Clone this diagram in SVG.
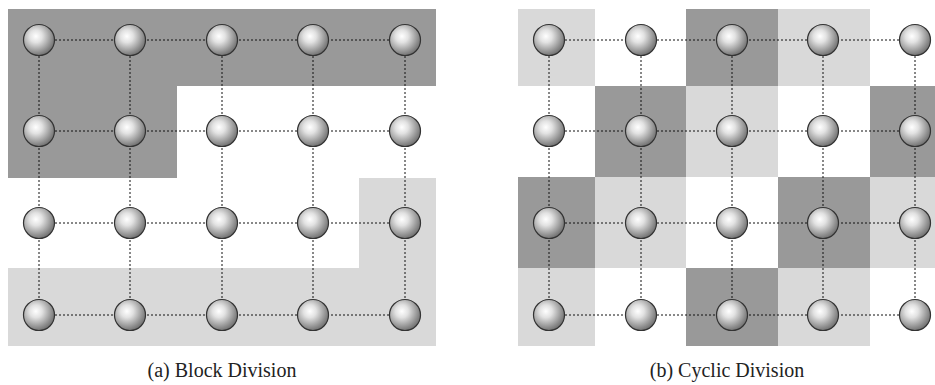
<svg xmlns="http://www.w3.org/2000/svg" xmlns:xlink="http://www.w3.org/1999/xlink" width="935" height="385" viewBox="0 0 935 385">
<style>
.dk{fill:#999999}
.lt{fill:#d9d9d9}
.ln{stroke:#111;stroke-width:1;stroke-dasharray:2 2;fill:none}
.cap{font-family:"Liberation Serif","DejaVu Serif",serif;font-size:20px;fill:#222;text-anchor:middle}
</style>
<defs>
<radialGradient id="sg" cx="0.4" cy="0.38" r="0.68">
<stop offset="0" stop-color="#ffffff"/>
<stop offset="0.3" stop-color="#e2e2e2"/>
<stop offset="0.78" stop-color="#8c8c8c"/>
<stop offset="1" stop-color="#666666"/>
</radialGradient>
<circle id="sp" r="15.5" fill="url(#sg)" stroke="#333" stroke-width="1.2"/>
</defs>
<rect width="935" height="385" fill="#fff"/>
<g id="regions-a">
<path class="dk" d="M8,9 H436 V86 H177 V178 H8 Z"/>
<path class="lt" d="M8,268 H359 V178 H436 V346 H8 Z"/>
</g>
<g id="regions-b">
<rect class="lt" x="518" y="9" width="77" height="77"/>
<rect class="dk" x="686" y="9" width="92" height="77"/>
<rect class="lt" x="778" y="9" width="92" height="77"/>
<rect class="dk" x="595" y="86" width="91" height="91"/>
<rect class="lt" x="686" y="86" width="92" height="91"/>
<rect class="dk" x="870" y="86" width="65" height="91"/>
<rect class="dk" x="518" y="177" width="77" height="91"/>
<rect class="lt" x="595" y="177" width="91" height="91"/>
<rect class="dk" x="778" y="177" width="92" height="91"/>
<rect class="lt" x="870" y="177" width="65" height="91"/>
<rect class="lt" x="518" y="268" width="77" height="78"/>
<rect class="dk" x="686" y="268" width="92" height="78"/>
<rect class="lt" x="778" y="268" width="92" height="78"/>
</g>
<g id="connectors">
<path class="ln" d="M39,40 H405 M39,131 H405 M39,223 H405 M39,315 H405 M39,40 V315 M130,40 V315 M222,40 V315 M313,40 V315 M405,40 V315"/>
<path class="ln" d="M549,40 H915 M549,131 H915 M549,223 H915 M549,315 H915 M549,40 V315 M641,40 V315 M732,40 V315 M823,40 V315 M915,40 V315"/>
</g>
<g id="nodes-a">
<g id="a11"><use xlink:href="#sp" x="39" y="40"/></g>
<g id="a12"><use xlink:href="#sp" x="130" y="40"/></g>
<g id="a13"><use xlink:href="#sp" x="222" y="40"/></g>
<g id="a14"><use xlink:href="#sp" x="313" y="40"/></g>
<g id="a15"><use xlink:href="#sp" x="405" y="40"/></g>
<g id="a21"><use xlink:href="#sp" x="39" y="131"/></g>
<g id="a22"><use xlink:href="#sp" x="130" y="131"/></g>
<g id="a23"><use xlink:href="#sp" x="222" y="131"/></g>
<g id="a24"><use xlink:href="#sp" x="313" y="131"/></g>
<g id="a25"><use xlink:href="#sp" x="405" y="131"/></g>
<g id="a31"><use xlink:href="#sp" x="39" y="223"/></g>
<g id="a32"><use xlink:href="#sp" x="130" y="223"/></g>
<g id="a33"><use xlink:href="#sp" x="222" y="223"/></g>
<g id="a34"><use xlink:href="#sp" x="313" y="223"/></g>
<g id="a35"><use xlink:href="#sp" x="405" y="223"/></g>
<g id="a41"><use xlink:href="#sp" x="39" y="315"/></g>
<g id="a42"><use xlink:href="#sp" x="130" y="315"/></g>
<g id="a43"><use xlink:href="#sp" x="222" y="315"/></g>
<g id="a44"><use xlink:href="#sp" x="313" y="315"/></g>
<g id="a45"><use xlink:href="#sp" x="405" y="315"/></g>
</g>
<g id="nodes-b">
<g id="b11"><use xlink:href="#sp" x="549" y="40"/></g>
<g id="b12"><use xlink:href="#sp" x="641" y="40"/></g>
<g id="b13"><use xlink:href="#sp" x="732" y="40"/></g>
<g id="b14"><use xlink:href="#sp" x="823" y="40"/></g>
<g id="b15"><use xlink:href="#sp" x="915" y="40"/></g>
<g id="b21"><use xlink:href="#sp" x="549" y="131"/></g>
<g id="b22"><use xlink:href="#sp" x="641" y="131"/></g>
<g id="b23"><use xlink:href="#sp" x="732" y="131"/></g>
<g id="b24"><use xlink:href="#sp" x="823" y="131"/></g>
<g id="b25"><use xlink:href="#sp" x="915" y="131"/></g>
<g id="b31"><use xlink:href="#sp" x="549" y="223"/></g>
<g id="b32"><use xlink:href="#sp" x="641" y="223"/></g>
<g id="b33"><use xlink:href="#sp" x="732" y="223"/></g>
<g id="b34"><use xlink:href="#sp" x="823" y="223"/></g>
<g id="b35"><use xlink:href="#sp" x="915" y="223"/></g>
<g id="b41"><use xlink:href="#sp" x="549" y="315"/></g>
<g id="b42"><use xlink:href="#sp" x="641" y="315"/></g>
<g id="b43"><use xlink:href="#sp" x="732" y="315"/></g>
<g id="b44"><use xlink:href="#sp" x="823" y="315"/></g>
<g id="b45"><use xlink:href="#sp" x="915" y="315"/></g>
</g>
<text class="cap" x="222" y="377">(a) Block Division</text>
<text class="cap" x="727" y="377">(b) Cyclic Division</text>
</svg>
